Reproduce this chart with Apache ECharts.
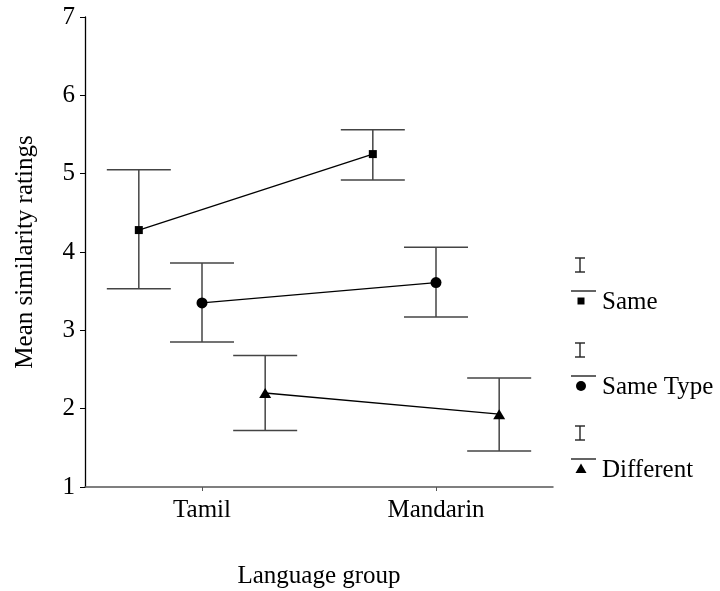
<!DOCTYPE html>
<html>
<head>
<meta charset="utf-8">
<script src="https://cdn.jsdelivr.net/npm/echarts@6/dist/echarts.min.js"></script>
<style>
  html, body { margin: 0; padding: 0; background: #fff; }
  #chart { width: 720px; height: 591px; }
</style>
</head>
<body>
<div id="chart"></div>
<script>
// language groups on the x axis
const categories = ["Tamil", "Mandarin"];
const conditions = ["Same", "Same Type", "Different"];
const yTicks = [1, 2, 3, 4, 5, 6, 7];

// means and error bar ends, one value per language group
const sameMean = [4.28, 5.25];
const sameHigh = [5.05, 5.56];
const sameLow = [3.53, 4.92];

const typeMean = [3.35, 3.61];
const typeHigh = [3.86, 4.06];
const typeLow = [2.85, 3.17];

const diffMean = [2.2, 1.93];
const diffHigh = [2.68, 2.39];
const diffLow = [1.72, 1.46];

const FONT = "Liberation Serif";
const dodge = [-0.27, 0, 0.27];
const symbols = ["rect", "circle", "triangle"];
const symbolSizes = [8, 11, [12, 10]];

const groups = [
  { mean: sameMean, high: sameHigh, low: sameLow },
  { mean: typeMean, high: typeHigh, low: typeLow },
  { mean: diffMean, high: diffHigh, low: diffLow }
];

// category i sits at i + 0.5 on the value axis
const xPos = (ci, gi) => ci + 0.5 + dodge[gi];

function renderErrorBar(params, api) {
  const x = api.value(0);
  const lo = api.coord([x, api.value(1)]);
  const hi = api.coord([x, api.value(2)]);
  const half = 32;
  const style = { stroke: "#444", lineWidth: 1.5 };
  return {
    type: "group",
    children: [
      { type: "line", shape: { x1: lo[0], y1: lo[1], x2: hi[0], y2: hi[1] }, style },
      { type: "line", shape: { x1: hi[0] - half, y1: hi[1], x2: hi[0] + half, y2: hi[1] }, style },
      { type: "line", shape: { x1: lo[0] - half, y1: lo[1], x2: lo[0] + half, y2: lo[1] }, style }
    ]
  };
}

const series = [];
groups.forEach((g, gi) => {
  series.push({
    name: conditions[gi] + " error",
    type: "custom",
    renderItem: renderErrorBar,
    data: categories.map((c, ci) => [xPos(ci, gi), g.low[ci], g.high[ci]]),
    z: 2,
    silent: true
  });
});
groups.forEach((g, gi) => {
  series.push({
    name: conditions[gi],
    type: "line",
    data: categories.map((c, ci) => [xPos(ci, gi), g.mean[ci]]),
    symbol: symbols[gi],
    symbolSize: symbolSizes[gi],
    lineStyle: { color: "#000", width: 1.3 },
    itemStyle: { color: "#000" },
    z: 3,
    animation: false
  });
});

// hand drawn legend: small error bar glyph, rule, marker, label
const legendTop = [301, 386, 469];
const legendGraphics = [];
conditions.forEach((name, i) => {
  const y = legendTop[i];
  const s = { stroke: "#222", lineWidth: 1.4 };
  legendGraphics.push(
    { type: "line", shape: { x1: 580, y1: y - 43, x2: 580, y2: y - 29 }, style: s },
    { type: "line", shape: { x1: 575, y1: y - 43, x2: 585, y2: y - 43 }, style: s },
    { type: "line", shape: { x1: 575, y1: y - 29, x2: 585, y2: y - 29 }, style: s },
    { type: "line", shape: { x1: 571, y1: y - 10, x2: 596, y2: y - 10 }, style: s }
  );
  if (i === 0) {
    legendGraphics.push({ type: "rect", shape: { x: 577.5, y: y - 3.5, width: 7, height: 7 }, style: { fill: "#000" } });
  } else if (i === 1) {
    legendGraphics.push({ type: "circle", shape: { cx: 581, cy: y, r: 5 }, style: { fill: "#000" } });
  } else {
    legendGraphics.push({ type: "polygon", shape: { points: [[581, y - 5.5], [586.5, y + 4], [575.5, y + 4]] }, style: { fill: "#000" } });
  }
  legendGraphics.push({
    type: "text",
    x: 602,
    y: y + 1,
    style: { text: name, font: "25px " + FONT, fill: "#000", verticalAlign: "middle" }
  });
});

const chart = echarts.init(document.getElementById("chart"), null, { renderer: "canvas" });
chart.setOption({
  backgroundColor: "#fff",
  animation: false,
  grid: { left: 85, right: 167, top: 17, bottom: 104, outerBoundsMode: "none" },
  xAxis: {
    type: "value",
    min: 0,
    max: 2,
    name: "Language group",
    nameLocation: "middle",
    nameGap: 77,
    nameTextStyle: { fontFamily: FONT, fontSize: 25, color: "#000" },
    splitLine: { show: false },
    axisLine: { lineStyle: { color: "#555", width: 1.5 } },
    axisTick: { customValues: [0.5, 1.5], length: 4, lineStyle: { color: "#555" } },
    axisLabel: {
      customValues: [0.5, 1.5],
      formatter: v => categories[Math.round(v - 0.5)],
      fontFamily: FONT,
      fontSize: 25,
      color: "#000",
      margin: 11
    }
  },
  yAxis: {
    type: "value",
    min: 1,
    max: 7,
    interval: 1,
    name: "Mean similarity ratings",
    nameLocation: "middle",
    nameGap: 47,
    nameTextStyle: { fontFamily: FONT, fontSize: 25, color: "#000" },
    splitLine: { show: false },
    axisLine: { show: true, lineStyle: { color: "#000", width: 1.3 } },
    axisTick: { show: true, length: 5, lineStyle: { color: "#000" } },
    axisLabel: {
      formatter: v => (yTicks.indexOf(v) >= 0 ? String(v) : ""),
      fontFamily: FONT,
      fontSize: 25,
      color: "#000",
      margin: 10
    }
  },
  graphic: legendGraphics,
  series: series
});
</script>
</body>
</html>
